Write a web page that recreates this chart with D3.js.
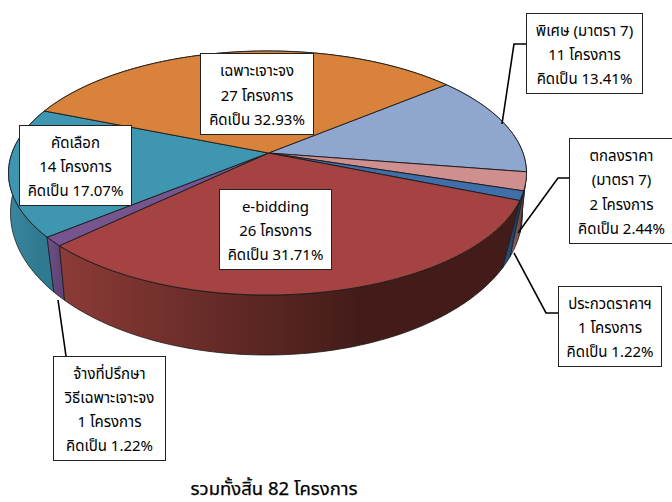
<!DOCTYPE html>
<html><head><meta charset="utf-8"><style>html,body{margin:0;background:#fff}svg{display:block}</style>
<script src="https://cdn.jsdelivr.net/npm/d3@7"></script></head><body><svg id="c" width="672" height="502"></svg>
<script>
const categories=["พิเศษ (มาตรา 7)","ตกลงราคา","ประกวดราคาฯ","e-bidding","จ้างที่ปรึกษา","คัดเลือก","เฉพาะเจาะจง"];
const counts=[11,2,1,26,1,14,27];
const percents=["13.41%","2.44%","1.22%","31.71%","1.22%","17.07%","32.93%"];
const topColors=["#8fa6cf","#cf8f8e","#3f6ea8","#a44341","#76558f","#3f96b0","#d8823c"];
const sideLight=["#6b7c9b","#9b6b6b","#2f5480","#8c3b37","#6f5288","#3b87a0","#a3622d"];
const sideDark=["#475268","#684747","#1f3d63","#431c19","#5f4578","#2f7a90","#6d421e"];
const svg=d3.select("#c");
const defs=svg.append("defs");
const top_={cx:267.5,cy:173,rx:259,ry:122,p:0,q:-0.0825};
const bot={cx:266.5,cy:213,rx:256,ry:142,p:-0.0586,q:-0.0168};
function rim(t,e){ // perspective mapping of a pie angle onto an ellipse
  const th=t-Math.PI/2, x=Math.cos(th), y=Math.sin(th);
  const nr=x+e.p, ni=y+e.q;
  const dr=1+e.p*x+e.q*y, di=e.p*y-e.q*x;
  const d=dr*dr+di*di;
  const u=(nr*dr+ni*di)/d, v=(ni*dr-nr*di)/d;
  return [e.cx+e.rx*u,e.cy+e.ry*v];
}
const arcs=d3.pie().sort(null).startAngle(50.6*Math.PI/180).endAngle((50.6+360)*Math.PI/180)(counts);
const apex=[top_.cx+1,top_.cy-20];
const line=d3.line();
function arcPts(s,e,el){const n=Math.max(2,Math.ceil((e-s)/0.02));return d3.range(n+1).map(i=>rim(s+(e-s)*i/n,el));}
const g=svg.append("g");
const order=[6,0,5,1,2,4,3];
order.forEach(i=>{const d=arcs[i];
  const tp=arcPts(d.startAngle,d.endAngle,top_), bp=arcPts(d.startAngle,d.endAngle,bot).reverse();
  const all=tp.concat(bp), ex=d3.extent(all,p=>p[0]);
  const id="w"+i;
  const lg=defs.append("linearGradient").attr("id",id).attr("gradientUnits","userSpaceOnUse")
    .attr("x1",ex[0]).attr("x2",ex[1]).attr("y1",0).attr("y2",0);
  lg.append("stop").attr("offset",0).attr("stop-color",sideLight[i]);
  lg.append("stop").attr("offset",0.65).attr("stop-color",sideDark[i]);
  lg.append("stop").attr("offset",1).attr("stop-color",sideDark[i]);
  g.append("path").attr("d",line(all)+"Z").attr("fill",`url(#${id})`).attr("stroke","#1a1a1a").attr("stroke-width",0.8).attr("stroke-linejoin","round");
});
arcs.forEach((d,i)=>{
  g.append("path").attr("d",line([apex].concat(arcPts(d.startAngle,d.endAngle,top_)))+"Z")
   .attr("fill",topColors[i]).attr("stroke","#1a1a1a").attr("stroke-width",0.9).attr("stroke-linejoin","round");
});
const font="Tahoma,'Noto Sans Thai','Noto Sans','DejaVu Sans',sans-serif";
function box(lines,x,y,w,h){
  svg.append("rect").attr("x",x+.5).attr("y",y+.5).attr("width",w).attr("height",h).attr("fill","#fff").attr("stroke","#222").attr("stroke-width",1);
  const lh=24.3, y0=y+h/2-(lines.length-1)*lh/2+7;
  lines.forEach((l,k)=>svg.append("text").attr("x",x+w/2+.5).attr("y",y0+k*lh).attr("text-anchor","middle").attr("font-family",font).attr("font-size",15).attr("fill","#000").text(l));
}
function leader(pts){svg.append("path").attr("d",line(pts)).attr("fill","none").attr("stroke","#000").attr("stroke-width",1.6);}
leader([[502,124],[514,44],[526,44]]);
leader([[518,233],[558,178],[570,178]]);
leader([[514,253],[546,313],[558,313]]);
leader([[58,300],[66,356]]);
const lab=n=>"คิดเป็น "+percents[n];
const pr=n=>counts[n]+" โครงการ";
box([categories[6],pr(6),lab(6)],200,53,113,81);
box([categories[5],pr(5),lab(5)],19,125,112,80);
box([categories[3],pr(3),lab(3)],219,189,112,80);
box([categories[0],pr(0),lab(0)],526,13,116,80);
box([categories[1],"(มาตรา 7)",pr(1),lab(1)],569,138,104,105);
box([categories[2],pr(2),lab(2)],558,286,103,80);
box([categories[4],"วิธีเฉพาะเจาะจง",pr(4),lab(4)],53,356,112,104);
svg.append("text").attr("x",274).attr("y",495).attr("text-anchor","middle").attr("font-family",font).attr("font-size",18.5).attr("fill","#000").attr("stroke","#000").attr("stroke-width",0.25).text("รวมทั้งสิ้น 82 โครงการ");
</script></body></html>
